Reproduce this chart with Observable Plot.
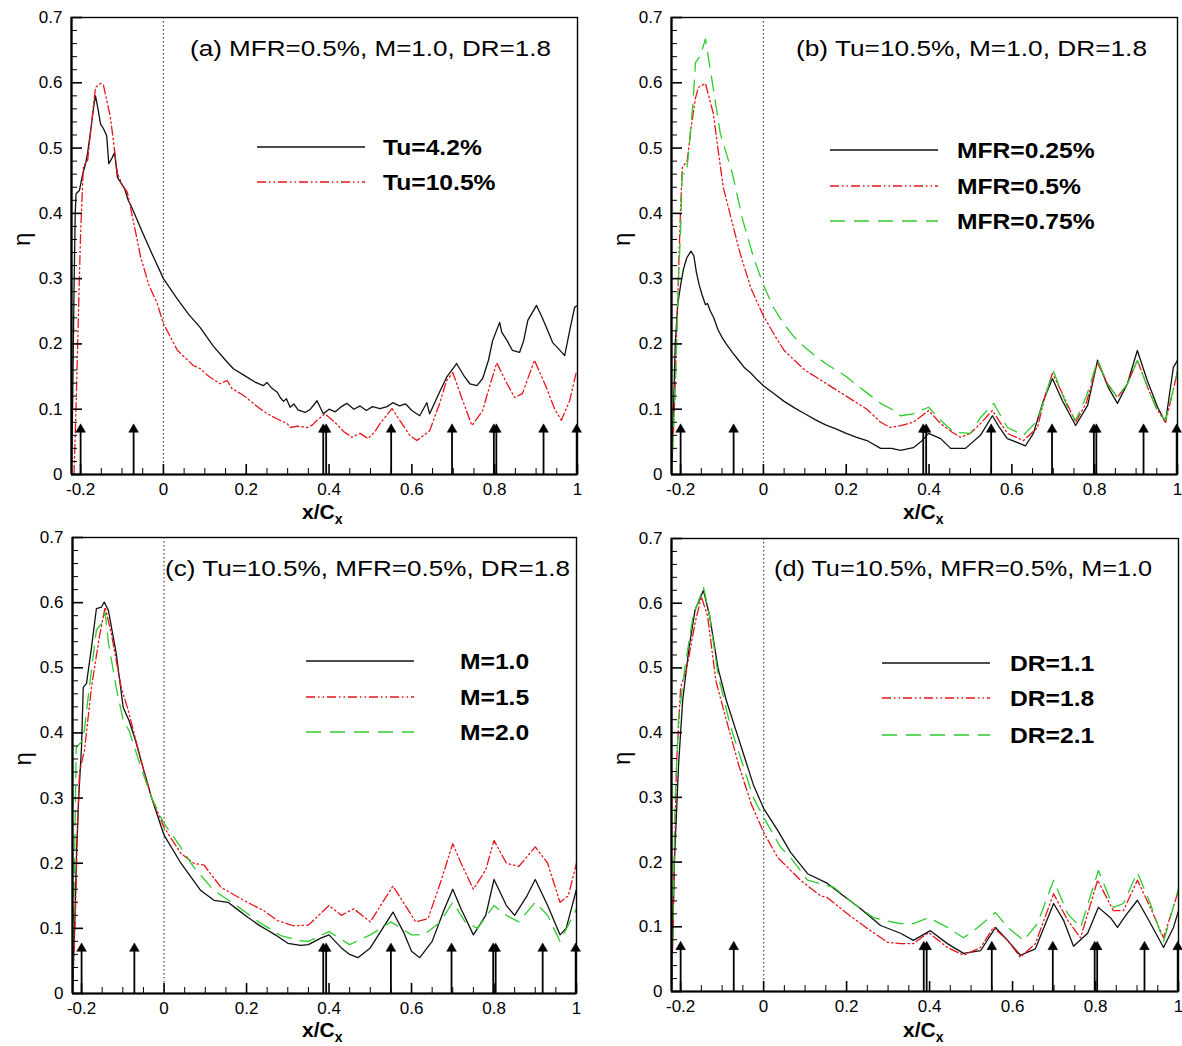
<!DOCTYPE html>
<html><head><meta charset="utf-8">
<script src="https://cdn.jsdelivr.net/npm/d3@7"></script>
<script src="https://cdn.jsdelivr.net/npm/@observablehq/plot@0.6"></script>
<style>
body{margin:0;background:#fff;font-family:"Liberation Sans",Arial,sans-serif;}
#root{position:relative;width:1182px;height:1046px;overflow:hidden;}
.panel{position:absolute;}
</style></head>
<body><div id="root"></div>
<script>
// ---------- axes / ticks ----------
const xDomain = [-0.222, 1];
const yDomain = [0, 0.7];
const yMajor = [0, 0.1, 0.2, 0.3, 0.4, 0.5, 0.6, 0.7];
const xMajor = [-0.2, 0, 0.2, 0.4, 0.6, 0.8, 1];
const yMinor = [0.02,0.04,0.06,0.08,0.12,0.14,0.16,0.18,0.22,0.24,0.26,0.28,0.32,0.34,0.36,0.38,0.42,0.44,0.46,0.48,0.52,0.54,0.56,0.58,0.62,0.64,0.66,0.68];
const xMinor = [-0.15,-0.1,-0.05,0.05,0.1,0.15,0.25,0.3,0.35,0.45,0.5,0.55,0.65,0.7,0.75,0.85,0.9,0.95];
const arrowX = [-0.2, -0.072, 0.386, 0.393, 0.55, 0.697, 0.798, 0.804, 0.918, 0.998];
const arrowStem = 0.066;
const arrowHead = 0.069;

// ---------- panel (a) ----------
const aTu42 = [[-0.222,0.0],[-0.219,0.12],[-0.216,0.28],[-0.213,0.40],[-0.211,0.43],[-0.203,0.435],[-0.195,0.46],[-0.188,0.476],[-0.183,0.493],[-0.175,0.53],[-0.168,0.565],[-0.164,0.58],[-0.158,0.56],[-0.152,0.537],[-0.145,0.53],[-0.137,0.519],[-0.132,0.476],[-0.124,0.485],[-0.118,0.493],[-0.111,0.455],[-0.103,0.447],[-0.094,0.438],[-0.085,0.42],[-0.075,0.407],[-0.05,0.37],[-0.024,0.333],[0,0.30],[0.03,0.272],[0.06,0.246],[0.089,0.225],[0.12,0.197],[0.15,0.175],[0.169,0.162],[0.2,0.15],[0.22,0.142],[0.241,0.136],[0.25,0.141],[0.262,0.132],[0.275,0.126],[0.282,0.118],[0.29,0.112],[0.297,0.116],[0.306,0.103],[0.315,0.108],[0.325,0.099],[0.342,0.095],[0.355,0.1],[0.371,0.113],[0.386,0.093],[0.4,0.1],[0.415,0.096],[0.43,0.104],[0.443,0.109],[0.46,0.1],[0.475,0.105],[0.49,0.098],[0.505,0.104],[0.523,0.101],[0.54,0.104],[0.554,0.11],[0.57,0.105],[0.585,0.108],[0.6,0.098],[0.619,0.09],[0.636,0.11],[0.643,0.093],[0.663,0.121],[0.684,0.149],[0.708,0.17],[0.725,0.152],[0.74,0.139],[0.757,0.136],[0.771,0.147],[0.785,0.175],[0.795,0.205],[0.812,0.233],[0.817,0.218],[0.83,0.205],[0.843,0.19],[0.86,0.187],[0.87,0.205],[0.88,0.236],[0.901,0.259],[0.915,0.24],[0.925,0.225],[0.94,0.202],[0.955,0.192],[0.969,0.182],[0.981,0.22],[0.993,0.256],[1.0,0.259]];
const aTu105 = [[-0.216,0.0],[-0.212,0.08],[-0.207,0.2],[-0.203,0.3],[-0.2,0.369],[-0.195,0.447],[-0.193,0.473],[-0.183,0.481],[-0.175,0.53],[-0.164,0.593],[-0.152,0.599],[-0.145,0.597],[-0.128,0.547],[-0.111,0.461],[-0.1,0.445],[-0.087,0.432],[-0.07,0.38],[-0.055,0.333],[-0.035,0.29],[-0.015,0.262],[0,0.231],[0.034,0.19],[0.072,0.167],[0.089,0.162],[0.11,0.15],[0.137,0.139],[0.154,0.144],[0.165,0.132],[0.186,0.124],[0.2,0.118],[0.217,0.109],[0.235,0.1],[0.251,0.093],[0.275,0.085],[0.299,0.078],[0.306,0.072],[0.325,0.074],[0.347,0.072],[0.36,0.076],[0.371,0.083],[0.39,0.093],[0.414,0.08],[0.435,0.066],[0.455,0.057],[0.475,0.063],[0.494,0.055],[0.51,0.065],[0.523,0.078],[0.552,0.101],[0.576,0.078],[0.595,0.06],[0.612,0.052],[0.643,0.067],[0.667,0.109],[0.684,0.144],[0.699,0.156],[0.72,0.118],[0.745,0.075],[0.771,0.098],[0.79,0.14],[0.805,0.171],[0.825,0.145],[0.848,0.118],[0.867,0.124],[0.896,0.175],[0.925,0.133],[0.945,0.1],[0.961,0.083],[0.981,0.113],[0.998,0.159]];

// ---------- panel (b) ----------
const bMFR025 = [[-0.222,0.0],[-0.218,0.08],[-0.213,0.2],[-0.207,0.26],[-0.2,0.29],[-0.193,0.315],[-0.185,0.332],[-0.175,0.342],[-0.168,0.335],[-0.162,0.31],[-0.155,0.29],[-0.148,0.275],[-0.14,0.26],[-0.135,0.262],[-0.128,0.25],[-0.12,0.24],[-0.11,0.222],[-0.1,0.21],[-0.09,0.2],[-0.075,0.187],[-0.06,0.175],[-0.045,0.163],[-0.03,0.155],[-0.015,0.145],[0,0.136],[0.025,0.124],[0.05,0.112],[0.075,0.102],[0.1,0.093],[0.125,0.084],[0.15,0.076],[0.175,0.07],[0.2,0.063],[0.225,0.057],[0.25,0.052],[0.283,0.04],[0.31,0.04],[0.331,0.037],[0.362,0.041],[0.38,0.05],[0.399,0.063],[0.428,0.055],[0.452,0.04],[0.488,0.04],[0.524,0.06],[0.553,0.09],[0.57,0.072],[0.589,0.055],[0.633,0.044],[0.652,0.063],[0.676,0.113],[0.698,0.147],[0.722,0.113],[0.754,0.075],[0.783,0.106],[0.807,0.175],[0.833,0.133],[0.855,0.109],[0.879,0.139],[0.903,0.19],[0.927,0.144],[0.952,0.103],[0.971,0.08],[0.99,0.164],[1.0,0.175]];
const bMFR05 = [[-0.222,0.0],[-0.215,0.1],[-0.208,0.25],[-0.203,0.35],[-0.2,0.409],[-0.196,0.47],[-0.184,0.481],[-0.175,0.53],[-0.164,0.577],[-0.157,0.593],[-0.14,0.599],[-0.121,0.553],[-0.11,0.5],[-0.097,0.44],[-0.075,0.385],[-0.056,0.338],[-0.03,0.285],[0,0.243],[0.03,0.21],[0.05,0.19],[0.075,0.175],[0.1,0.16],[0.125,0.15],[0.15,0.14],[0.175,0.13],[0.2,0.12],[0.225,0.11],[0.25,0.1],[0.283,0.08],[0.307,0.072],[0.331,0.075],[0.362,0.08],[0.399,0.098],[0.428,0.078],[0.455,0.065],[0.476,0.057],[0.5,0.063],[0.524,0.078],[0.553,0.098],[0.589,0.063],[0.628,0.052],[0.662,0.072],[0.68,0.12],[0.698,0.155],[0.722,0.124],[0.754,0.08],[0.78,0.11],[0.807,0.171],[0.83,0.14],[0.855,0.118],[0.88,0.14],[0.903,0.175],[0.93,0.13],[0.95,0.1],[0.971,0.08],[0.99,0.13],[1.0,0.159]];
const bMFR075 = [[-0.222,0.0],[-0.212,0.15],[-0.205,0.3],[-0.2,0.374],[-0.196,0.461],[-0.186,0.461],[-0.181,0.491],[-0.17,0.57],[-0.164,0.631],[-0.152,0.642],[-0.14,0.667],[-0.123,0.599],[-0.104,0.522],[-0.075,0.461],[-0.05,0.39],[-0.024,0.333],[0,0.29],[0.025,0.255],[0.05,0.23],[0.075,0.21],[0.1,0.195],[0.125,0.182],[0.15,0.17],[0.175,0.16],[0.2,0.15],[0.225,0.137],[0.25,0.125],[0.283,0.109],[0.31,0.1],[0.331,0.09],[0.362,0.093],[0.399,0.103],[0.428,0.083],[0.459,0.065],[0.5,0.063],[0.524,0.087],[0.556,0.109],[0.589,0.072],[0.628,0.06],[0.662,0.083],[0.7,0.159],[0.734,0.103],[0.754,0.083],[0.78,0.12],[0.807,0.175],[0.83,0.14],[0.855,0.118],[0.88,0.14],[0.903,0.175],[0.93,0.13],[0.95,0.1],[0.971,0.083],[0.99,0.13],[1.0,0.159]];

// ---------- panel (c) ----------
const cM10 = [[-0.222,0.0],[-0.217,0.1],[-0.212,0.22],[-0.207,0.3],[-0.2,0.38],[-0.196,0.47],[-0.188,0.476],[-0.176,0.531],[-0.164,0.591],[-0.152,0.593],[-0.145,0.601],[-0.135,0.588],[-0.116,0.522],[-0.099,0.439],[-0.085,0.419],[-0.07,0.39],[-0.056,0.358],[-0.03,0.3],[0,0.243],[0.041,0.2],[0.089,0.158],[0.121,0.143],[0.155,0.14],[0.18,0.128],[0.203,0.117],[0.23,0.105],[0.251,0.097],[0.275,0.088],[0.3,0.077],[0.331,0.074],[0.35,0.075],[0.38,0.085],[0.4,0.09],[0.43,0.07],[0.45,0.06],[0.47,0.055],[0.5,0.07],[0.53,0.1],[0.555,0.125],[0.58,0.095],[0.6,0.065],[0.62,0.055],[0.65,0.08],[0.68,0.13],[0.7,0.16],[0.72,0.13],[0.75,0.09],[0.78,0.12],[0.8,0.175],[0.83,0.135],[0.85,0.12],[0.88,0.15],[0.9,0.175],[0.93,0.135],[0.96,0.09],[0.975,0.1],[1.0,0.16]];
const cM15 = [[-0.222,0.0],[-0.215,0.12],[-0.21,0.25],[-0.205,0.34],[-0.193,0.373],[-0.176,0.47],[-0.157,0.547],[-0.143,0.593],[-0.128,0.553],[-0.104,0.47],[-0.087,0.435],[-0.056,0.358],[-0.03,0.3],[0,0.255],[0.041,0.215],[0.072,0.2],[0.097,0.197],[0.138,0.163],[0.193,0.143],[0.242,0.127],[0.275,0.112],[0.314,0.104],[0.35,0.105],[0.4,0.135],[0.43,0.12],[0.46,0.13],[0.5,0.11],[0.53,0.14],[0.555,0.165],[0.58,0.14],[0.61,0.11],[0.64,0.115],[0.67,0.17],[0.7,0.23],[0.72,0.2],[0.75,0.16],[0.78,0.19],[0.8,0.235],[0.83,0.2],[0.86,0.195],[0.9,0.225],[0.93,0.2],[0.96,0.14],[0.98,0.15],[1.0,0.2]];
const cM20 = [[-0.222,0.0],[-0.217,0.2],[-0.213,0.378],[-0.196,0.389],[-0.184,0.455],[-0.164,0.558],[-0.152,0.568],[-0.143,0.585],[-0.135,0.539],[-0.116,0.47],[-0.099,0.419],[-0.085,0.404],[-0.056,0.347],[-0.03,0.3],[0,0.261],[0.041,0.224],[0.072,0.194],[0.121,0.158],[0.169,0.138],[0.234,0.108],[0.283,0.089],[0.331,0.081],[0.35,0.08],[0.4,0.095],[0.45,0.075],[0.5,0.09],[0.55,0.11],[0.6,0.09],[0.63,0.09],[0.67,0.11],[0.7,0.14],[0.73,0.11],[0.76,0.1],[0.8,0.135],[0.83,0.12],[0.86,0.11],[0.9,0.14],[0.93,0.12],[0.96,0.08],[1.0,0.13]];

// ---------- panel (d) ----------
const dDR11 = [[-0.222,0.0],[-0.215,0.2],[-0.205,0.35],[-0.195,0.45],[-0.18,0.53],[-0.165,0.59],[-0.145,0.62],[-0.13,0.58],[-0.11,0.5],[-0.09,0.45],[-0.07,0.41],[-0.05,0.37],[-0.025,0.32],[0,0.283],[0.034,0.249],[0.065,0.215],[0.106,0.182],[0.154,0.167],[0.186,0.151],[0.234,0.128],[0.282,0.102],[0.33,0.09],[0.361,0.079],[0.402,0.094],[0.443,0.074],[0.482,0.059],[0.523,0.063],[0.559,0.099],[0.588,0.079],[0.619,0.056],[0.655,0.066],[0.699,0.136],[0.723,0.11],[0.747,0.07],[0.781,0.09],[0.807,0.13],[0.836,0.114],[0.853,0.099],[0.872,0.117],[0.901,0.141],[0.925,0.114],[0.964,0.068],[0.988,0.099],[1.0,0.125]];
const dDR18 = [[-0.222,0.0],[-0.21,0.35],[-0.2,0.47],[-0.185,0.5],[-0.165,0.57],[-0.15,0.61],[-0.135,0.58],[-0.115,0.48],[-0.09,0.42],[-0.06,0.35],[-0.03,0.29],[0,0.246],[0.034,0.207],[0.089,0.172],[0.137,0.148],[0.154,0.145],[0.202,0.12],[0.251,0.097],[0.299,0.076],[0.33,0.074],[0.361,0.074],[0.398,0.091],[0.443,0.068],[0.482,0.056],[0.523,0.068],[0.554,0.099],[0.588,0.079],[0.619,0.053],[0.655,0.074],[0.699,0.151],[0.733,0.11],[0.764,0.083],[0.805,0.172],[0.843,0.125],[0.867,0.125],[0.901,0.172],[0.932,0.13],[0.964,0.083],[1.0,0.156]];
const dDR21 = [[-0.222,0.0],[-0.213,0.3],[-0.205,0.42],[-0.19,0.5],[-0.17,0.58],[-0.145,0.625],[-0.13,0.58],[-0.11,0.49],[-0.08,0.41],[-0.05,0.35],[-0.025,0.3],[0,0.269],[0.041,0.223],[0.065,0.207],[0.106,0.172],[0.169,0.161],[0.217,0.136],[0.265,0.114],[0.313,0.107],[0.33,0.105],[0.361,0.105],[0.398,0.114],[0.443,0.099],[0.482,0.083],[0.516,0.099],[0.559,0.122],[0.588,0.099],[0.627,0.079],[0.66,0.105],[0.699,0.172],[0.733,0.12],[0.764,0.099],[0.807,0.187],[0.843,0.13],[0.867,0.136],[0.901,0.184],[0.932,0.136],[0.964,0.077],[1.0,0.159]];

// ---------- labels ----------
const titles = ["(a) MFR=0.5%, M=1.0, DR=1.8", "(b) Tu=10.5%, M=1.0, DR=1.8", "(c) Tu=10.5%, MFR=0.5%, DR=1.8", "(d) Tu=10.5%, MFR=0.5%, M=1.0"];
const legendA = ["Tu=4.2%", "Tu=10.5%"];
const legendB = ["MFR=0.25%", "MFR=0.5%", "MFR=0.75%"];
const legendC = ["M=1.0", "M=1.5", "M=2.0"];
const legendD = ["DR=1.1", "DR=1.8", "DR=2.1"];

// ---------- styles ----------
const STY = {
  black: {color: "#111", dash: null, width: 1.3},
  red: {color: "#e8141c", dash: "9,3,1.5,3,1.5,3", width: 1.3},
  green: {color: "#2fcc2f", dash: "15,9", width: 1.3}
};

const panels = [
  {left:0, top:0, w:591, h:520, ml:71, mr:14, mt:17, mb:46, title:titles[0], tl:[190,48,361],
   series:[[aTu42,"black"],[aTu105,"red"]], legend:legendA, lx:257, ly:[147,182], lt:383, xl:[302,512]},
  {left:591, top:0, w:591, h:520, ml:80, mr:5, mt:17, mb:46, title:titles[1], tl:[796,48,351],
   series:[[bMFR025,"black"],[bMFR05,"red"],[bMFR075,"green"]], legend:legendB, lx:830, ly:[150,186,221], lt:957, xl:[903,512]},
  {left:0, top:520, w:591, h:526, ml:72, mr:15, mt:17, mb:53, title:titles[2], tl:[165,568,405],
   series:[[cM10,"black"],[cM15,"red"],[cM20,"green"]], legend:legendC, lx:306, ly:[661,697,732], lt:460, xl:[302,1030]},
  {left:591, top:520, w:591, h:526, ml:80, mr:4, mt:18, mb:55, title:titles[3], tl:[774,568,378],
   series:[[dDR11,"black"],[dDR18,"red"],[dDR21,"green"]], legend:legendD, lx:882, ly:[663,698,735], lt:1010, xl:[903,1030]}
];

const root = document.getElementById("root");
const FONT = "'Liberation Sans', Arial, Helvetica, sans-serif";

for (const p of panels) {
  const iw = p.w - p.ml - p.mr, ih = p.h - p.mt - p.mb;
  const marks = [
    Plot.ruleX([0], {stroke:"#444", strokeDasharray:"1.5,2.5", strokeWidth:1.2}),
    ...p.series.map(([data, k]) => Plot.line(data, {x: d => d[0], y: d => d[1], stroke: STY[k].color, strokeWidth: STY[k].width, strokeDasharray: STY[k].dash, clip: true})),
    Plot.ruleX(arrowX, {x: d => d, y1: 0, y2: arrowStem, stroke:"#000", strokeWidth:1.8}),
    Plot.dot(arrowX, {x: d => d, y: arrowHead, symbol:"triangle", r:3.6, fill:"#000", stroke:"#000", strokeWidth:0.5}),
    Plot.tickY(yMajor, {y: d => d, insetRight: iw - 11, strokeWidth:1.6}),
    Plot.tickY(yMinor, {y: d => d, insetRight: iw - 6, strokeWidth:1}),
    Plot.tickX(xMajor, {x: d => d, insetTop: ih - 10, strokeWidth:1.6}),
    Plot.tickX(xMinor, {x: d => d, insetTop: ih - 6, strokeWidth:1}),
    Plot.frame({stroke:"#000", strokeWidth:1.4}),
    Plot.ruleX([xDomain[0]], {strokeWidth:2.2}),
    Plot.ruleY([0], {strokeWidth:2.2}),
    Plot.axisY(yMajor, {tickSize:0, tickPadding:9, fontSize:17, tickFormat: d => String(d), label:null}),
    Plot.axisX(xMajor, {tickSize:0, tickPadding:8, fontSize:17, tickFormat: d => String(d), label:null}),
    Plot.text(["η"], {text: d => d, frameAnchor:"left", dx:-49, rotate:-90, fontSize:24})
  ];
  const chart = Plot.plot({
    width: p.w, height: p.h,
    marginLeft: p.ml, marginRight: p.mr, marginTop: p.mt, marginBottom: p.mb,
    x: {domain: xDomain}, y: {domain: yDomain},
    style: {fontFamily: FONT, background: "transparent", color: "#000", overflow: "visible"},
    marks
  });
  const holder = document.createElement("div");
  holder.className = "panel";
  holder.style.left = p.left + "px";
  holder.style.top = p.top + "px";
  holder.appendChild(chart);
  root.appendChild(holder);
}

// overlay: titles, legends, x labels
const ovl = d3.select(root).append("svg")
  .attr("width", 1182).attr("height", 1046)
  .style("position", "absolute").style("left", 0).style("top", 0)
  .style("pointer-events", "none").style("font-family", FONT);

for (const p of panels) {
  const t = ovl.append("text").attr("x", p.tl[0]).attr("y", p.tl[1]).attr("dy", "0.35em")
    .attr("font-size", 22).text(p.title);
  t.attr("textLength", p.tl[2]).attr("lengthAdjust", "spacingAndGlyphs");
  p.legend.forEach((lab, i) => {
    const k = p.series[i][1];
    ovl.append("line").attr("x1", p.lx).attr("x2", p.lx + 108).attr("y1", p.ly[i]).attr("y2", p.ly[i])
      .attr("stroke", STY[k].color).attr("stroke-width", 1.6).attr("stroke-dasharray", STY[k].dash);
    const lt = ovl.append("text").attr("x", p.lt).attr("y", p.ly[i]).attr("dy", "0.36em")
      .attr("font-size", 22).attr("font-weight", "bold").text(lab);
    const w = lt.node().getComputedTextLength();
    lt.attr("textLength", w * 1.12).attr("lengthAdjust", "spacingAndGlyphs");
  });
  const xl = ovl.append("text").attr("x", p.xl[0]).attr("y", p.xl[1]).attr("dy", "0.35em")
    .attr("font-size", 21).attr("font-weight", "bold");
  xl.append("tspan").text("x/C");
  xl.append("tspan").attr("font-size", 14).attr("dy", "0.35em").text("x");
}
</script>
</body></html>
